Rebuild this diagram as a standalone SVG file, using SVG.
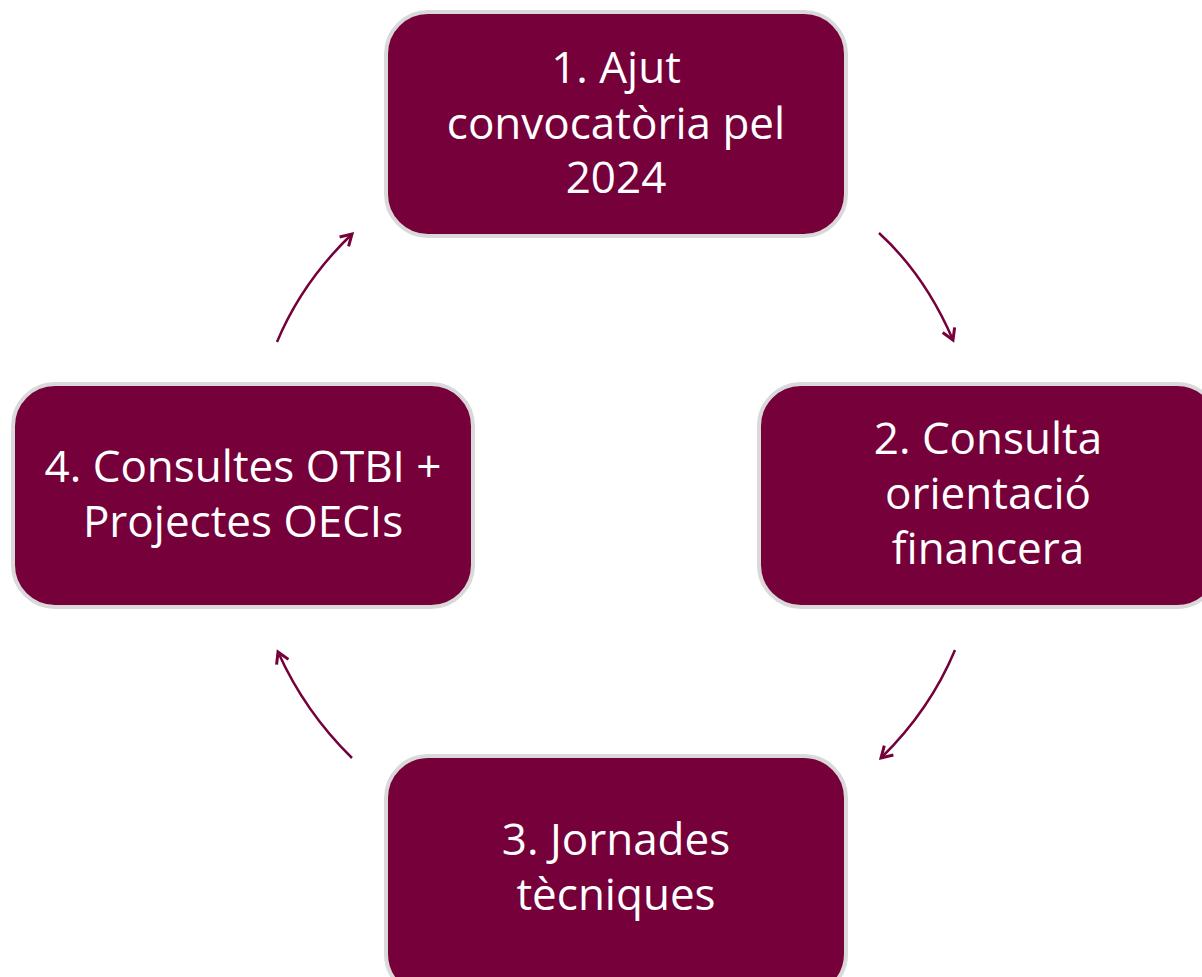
<svg xmlns="http://www.w3.org/2000/svg" width="1202" height="977" viewBox="0 0 1202 977">
<style>
.box{fill:#76003a;stroke:#d9d9d9;stroke-width:4}
.t{fill:#ffffff;font-family:"Open Sans","Liberation Sans",sans-serif;font-size:44px;text-anchor:middle}
.c{fill:none;stroke:#76003a;stroke-width:2.5}
</style>
<defs>
<marker id="ah" markerWidth="16" markerHeight="16" refX="12" refY="8" orient="auto" markerUnits="userSpaceOnUse">
<path d="M1,1.5 L12,8 L1,14.5" fill="none" stroke="#76003a" stroke-width="3"/>
</marker>
</defs>
<rect width="1202" height="977" fill="#ffffff"/>
<g id="connectors">
<path class="c" d="M879,233 Q925,275 953,340" marker-end="url(#ah)"/>
<path class="c" d="M955,650 Q930,710 881,758" marker-end="url(#ah)"/>
<path class="c" d="M352,758 Q305,712 278,652" marker-end="url(#ah)"/>
<path class="c" d="M277,342 Q302,282 352,234" marker-end="url(#ah)"/>
</g>
<g id="node1">
<rect class="box" x="386" y="12" width="460" height="224" rx="42"/>
<text class="t" x="616" y="83">1. Ajut</text>
<text class="t" x="616" y="139">convocatòria pel</text>
<text class="t" x="616" y="193">2024</text>
</g>
<g id="node2">
<rect class="box" x="759" y="384" width="460" height="223" rx="42"/>
<text class="t" x="988" y="454">2. Consulta</text>
<text class="t" x="988" y="509">orientació</text>
<text class="t" x="988" y="564">financera</text>
</g>
<g id="node3">
<rect class="box" x="386" y="756" width="460" height="240" rx="42"/>
<text class="t" x="616" y="855">3. Jornades</text>
<text class="t" x="616" y="910">tècniques</text>
</g>
<g id="node4">
<rect class="box" x="13" y="384" width="460" height="223" rx="42"/>
<text class="t" x="243" y="482">4. Consultes OTBI +</text>
<text class="t" x="243" y="537">Projectes OECIs</text>
</g>
</svg>
